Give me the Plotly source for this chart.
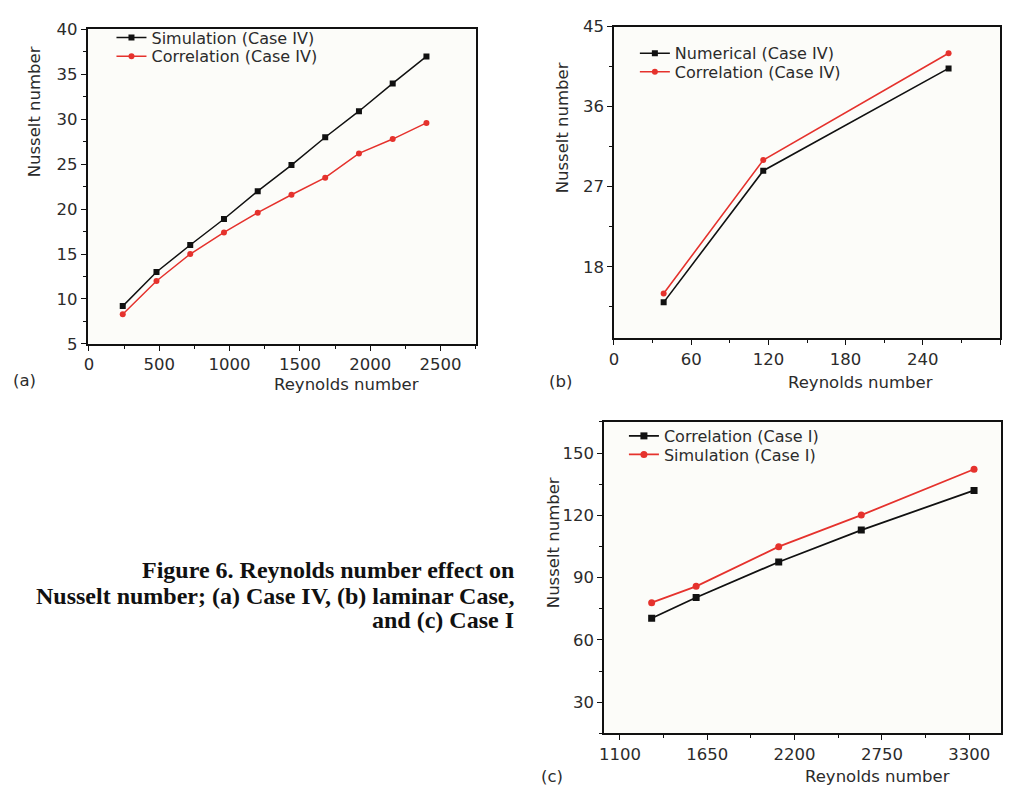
import plotly.graph_objects as go

# ---------------- data ----------------
re_a = [240, 480, 720, 960, 1200, 1440, 1680, 1920, 2160, 2400]
nu_a_sim = [9.2, 13.0, 16.0, 18.9, 22.0, 24.9, 28.0, 30.9, 34.0, 37.0]
nu_a_cor = [8.3, 12.0, 15.0, 17.4, 19.6, 21.6, 23.5, 26.2, 27.8, 29.6]

re_b = [38.6, 116, 260]
nu_b_num = [14.0, 28.8, 40.3]
nu_b_cor = [15.0, 30.0, 42.0]

re_c = [1300, 1580, 2100, 2620, 3330]
nu_c_cor = [70.4, 80.4, 97.5, 112.9, 132.0]
nu_c_sim = [77.9, 85.8, 104.9, 120.1, 142.2]

caption_lines = ["Figure 6. Reynolds number effect on",
                 "Nusselt number; (a) Case IV, (b) laminar Case,",
                 "and (c) Case I"]

W, H = 1011, 796
BLACK = "#111111"
RED = "#e5322d"
FONT = "DejaVu Sans, Arial, sans-serif"
TXT = "#2b2b2b"

def px(x):
    return x / W

def py(y):
    return 1 - y / H

fig = go.Figure()

def add(x, y, name, color, symbol, size, width, axes, leg):
    fig.add_trace(go.Scatter(x=x, y=y, mode="lines+markers", name=name,
                             line=dict(color=color, width=width),
                             marker=dict(symbol=symbol, size=size, color=color),
                             xaxis=axes[0], yaxis=axes[1], legend=leg))

add(re_a, nu_a_sim, "Simulation (Case IV)", BLACK, "square", 6, 1.5, ("x", "y"), "legend")
add(re_a, nu_a_cor, "Correlation (Case IV)", RED, "circle", 6, 1.5, ("x", "y"), "legend2")
add(re_b, nu_b_num, "Numerical (Case IV)", BLACK, "square", 6, 1.6, ("x2", "y2"), "legend3")
add(re_b, nu_b_cor, "Correlation (Case IV)", RED, "circle", 6, 1.6, ("x2", "y2"), "legend4")
add(re_c, nu_c_cor, "Correlation (Case I)", BLACK, "square", 7, 1.8, ("x3", "y3"), "legend5")
add(re_c, nu_c_sim, "Simulation (Case I)", RED, "circle", 7, 1.8, ("x3", "y3"), "legend6")

def ax(domain, rng, dtick, minor_dtick, anchor, tick0=0):
    return dict(domain=domain, range=rng, dtick=dtick, tick0=tick0, showgrid=False, zeroline=False,
                showline=True, linecolor=BLACK, linewidth=1.5, mirror=True,
                ticks="outside", ticklen=5, tickwidth=1.3, tickcolor=BLACK,
                minor=dict(dtick=minor_dtick, tick0=tick0, ticks="outside", ticklen=3, tickwidth=1.2,
                           tickcolor=BLACK, showgrid=False),
                tickfont=dict(family=FONT, size=16.5, color=TXT), anchor=anchor)

xa = ax([px(83), px(473)], [-10, 2750], 500, 250, "y")
ya = ax([py(343), py(21)], [5, 40], 5, 2.5, "x")
xb = ax([px(612), px(1000)], [0, 300], 60, 30, "y2")
yb = ax([py(337), py(18)], [10, 45], 9, 4.5, "x2")
xc = ax([px(602), px(1001)], [1000, 3500], 550, 275, "y3", tick0=1100)
yc = ax([py(742), py(423)], [15, 165], 30, 15, "x3")

def leg(x_text, y_top):
    return dict(x=px(x_text - 43), y=py(y_top), xanchor="left", yanchor="top",
                bgcolor="rgba(0,0,0,0)", font=dict(family=FONT, size=16, color=TXT),
                tracegroupgap=0, itemwidth=30)

fig.update_layout(
    width=W, height=H, margin=dict(l=0, r=0, t=0, b=0),
    paper_bgcolor="white", plot_bgcolor="#fcfcf9",
    xaxis=xa, yaxis=ya, xaxis2=xb, yaxis2=yb, xaxis3=xc, yaxis3=yc,
    showlegend=True,
    legend=leg(150, 12), legend2=leg(150, 31),
    legend3=leg(676, 28), legend4=leg(676, 47),
    legend5=leg(665, 420), legend6=leg(665, 439),
)

annots = [
    dict(text="Reynolds number", x=px(343), y=py(385)),
    dict(text="Reynolds number", x=px(860), y=py(383)),
    dict(text="Reynolds number", x=px(877), y=py(786)),
    dict(text="(a)", x=px(20), y=py(381)),
    dict(text="(b)", x=px(558), y=py(382)),
    dict(text="(c)", x=px(550), y=py(786)),
]
for a in annots:
    fig.add_annotation(xref="paper", yref="paper", showarrow=False, xanchor="center", yanchor="middle",
                       font=dict(family=FONT, size=16.5, color=TXT), **a)

for (x, y) in [(30, 105), (560, 122), (552, 547)]:
    fig.add_annotation(text="Nusselt number", xref="paper", yref="paper", x=px(x), y=py(y), textangle=-90,
                       showarrow=False, xanchor="center", yanchor="middle",
                       font=dict(family=FONT, size=16.5, color=TXT))

for line, yc_ in zip(caption_lines, [575, 601, 626]):
    fig.add_annotation(text="<b>" + line + "</b>", xref="paper", yref="paper", x=px(514), y=py(yc_),
                       xanchor="right", yanchor="middle", align="right", showarrow=False,
                       font=dict(family="Liberation Serif, Times New Roman, serif", size=24, color="#111111"))

fig.write_html("out.html")
